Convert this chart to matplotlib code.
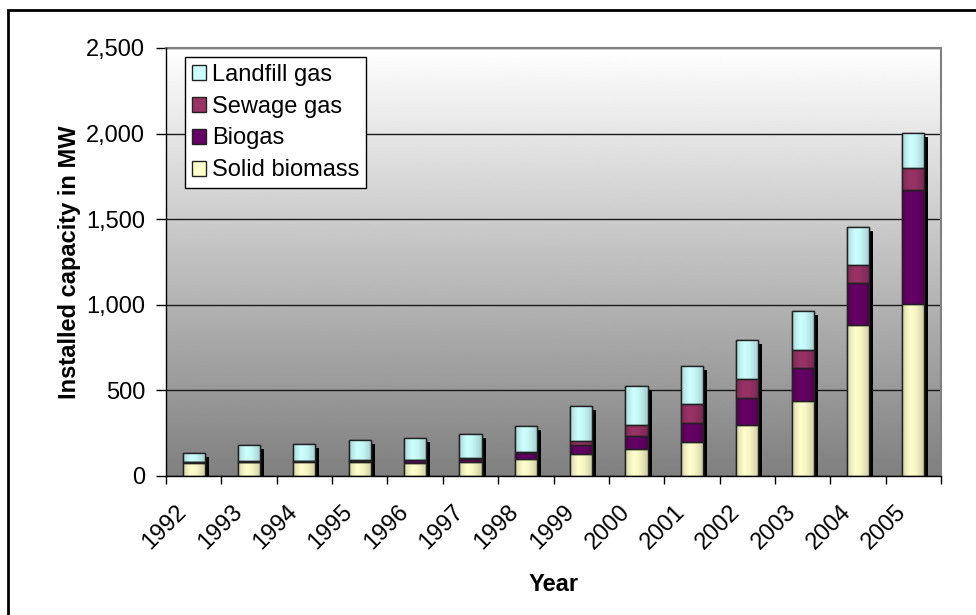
import numpy as np
import matplotlib
matplotlib.use("Agg")
import matplotlib.pyplot as plt
from matplotlib.patches import Rectangle
from matplotlib.colors import to_rgb
from matplotlib.transforms import ScaledTranslation

plt.rcParams['font.family'] = ['Liberation Sans', 'DejaVu Sans']

years = [str(y) for y in range(1992, 2006)]
solid_biomass = [78, 80, 82, 82, 78, 82, 99, 127, 155, 198, 299, 437, 881, 1006]
biogas = [3, 4, 5, 6, 14, 17, 35, 53, 77, 113, 158, 193, 247, 663]
sewage_gas = [2, 3, 3, 4, 4, 8, 6, 25, 68, 107, 111, 107, 107, 131]
landfill_gas = [50, 95, 96, 119, 124, 139, 150, 201, 227, 226, 225, 224, 218, 205]

series = [
    ("Solid biomass", solid_biomass, "#FFFFCC"),
    ("Biogas", biogas, "#660066"),
    ("Sewage gas", sewage_gas, "#993366"),
    ("Landfill gas", landfill_gas, "#CCFFFF"),
]

FS = 17

fig = plt.figure(figsize=(9.76, 6.15), dpi=100)
ax = fig.add_axes([166 / 976, 1 - 476 / 615, (941 - 166) / 976, (476 - 48) / 615])

x = np.arange(len(years))
width = 0.4
ymax = 2500

# plot-area background: white at the top fading to grey at the bottom
grad = np.linspace(0.5, 1.0, 256).reshape(-1, 1)
ax.imshow(grad, cmap="gray", vmin=0, vmax=1, origin="lower",
          extent=(-0.5, len(years) - 0.5, 0, ymax), aspect="auto", zorder=0)

totals = np.sum([s[1] for s in series], axis=0)

# drop shadow behind each stacked column
px_x = 1.0 / 55.7          # data units per pixel horizontally
px_y = ymax / 428.0        # data units per pixel vertically
ax.bar(x + 4 * px_x, totals - 4 * px_y, width=width, color="black",
       zorder=2, linewidth=0)

# horizontal shading profile across a column
prof_pos = np.array([0.0, 0.12, 0.35, 0.6, 0.85, 1.0])
prof_val = np.array([0.62, 0.85, 1.0, 0.95, 0.8, 0.68])
cols = np.linspace(0, 1, 64)
shade = np.interp(cols, prof_pos, prof_val)

bottom = np.zeros(len(years))
handles = []
for name, vals, color in series:
    bars = ax.bar(x, vals, width=width, bottom=bottom, color=color,
                  edgecolor="#222222", linewidth=1.0, zorder=3, label=name)
    rgb = np.array(to_rgb(color))
    img = np.clip(shade[None, :, None] * rgb[None, None, :], 0, 1)
    # keep light colours light: blend toward the base colour
    img = np.clip(0.55 * img + 0.45 * rgb[None, None, :] * (0.75 + 0.25 * shade[None, :, None]), 0, 1)
    for p in bars.patches:
        x0, y0 = p.get_x(), p.get_y()
        w, h = p.get_width(), p.get_height()
        if h <= 0:
            continue
        im = ax.imshow(img, extent=(x0, x0 + w, y0, y0 + h), aspect="auto",
                       zorder=3.5, interpolation="bilinear")
        im.set_clip_path(p)
        edge = Rectangle((x0, y0), w, h, fill=False, edgecolor="#222222",
                         linewidth=1.0, zorder=4)
        ax.add_patch(edge)
    handles.append(bars)
    bottom = bottom + np.array(vals)

ax.set_xlim(-0.5, len(years) - 0.5)
ax.set_ylim(0, ymax)
ax.set_yticks(np.arange(0, 2501, 500))
ax.set_yticklabels([f"{v:,}" for v in range(0, 2501, 500)], fontsize=FS)
ax.yaxis.grid(True, color="#1a1a1a", linewidth=1.0, zorder=1)
ax.set_axisbelow(True)

# tick marks between categories; year labels drawn below each column
ax.set_xticks(np.arange(-0.5, len(years)))
ax.set_xticklabels([])
ax.tick_params(axis="x", length=6, width=1, color="black", direction="out")
ax.tick_params(axis="y", length=7, width=1, direction="out", pad=8)

label_tf = ax.get_xaxis_transform() + ScaledTranslation(-0.18, -0.25, fig.dpi_scale_trans)
for xi, yr in zip(x, years):
    ax.text(xi, 0, yr, transform=label_tf, rotation=45, ha="right", va="top",
            rotation_mode="anchor", fontsize=FS, clip_on=False)

ax.set_xlabel("Year", fontsize=FS, fontweight="bold", labelpad=60)
ax.set_ylabel("Installed capacity in MW", fontsize=FS, fontweight="bold",
              labelpad=4)

for side in ("top", "right"):
    ax.spines[side].set_color("#808080")
    ax.spines[side].set_linewidth(1.5)
for side in ("left", "bottom"):
    ax.spines[side].set_color("black")
    ax.spines[side].set_linewidth(1.0)
    ax.spines[side].set_zorder(5)

leg = ax.legend(handles[::-1], [s[0] for s in series][::-1],
                loc="upper left", bbox_to_anchor=(0.024, 0.98),
                fontsize=FS, frameon=True, fancybox=False, edgecolor="black",
                framealpha=1.0, facecolor="white", handlelength=0.6,
                handleheight=0.6, handletextpad=0.25, borderpad=0.3,
                labelspacing=0.42, borderaxespad=0.0)
leg.get_frame().set_linewidth(1.0)
leg.set_zorder(10)

# outer frame around the whole chart
fig.patches.append(Rectangle((8 / 976, -0.05), 1.1, 1 - 10 / 615 + 0.05,
                             transform=fig.transFigure, fill=False,
                             edgecolor="black", linewidth=2.0))

fig.savefig("out.png", dpi=100)
